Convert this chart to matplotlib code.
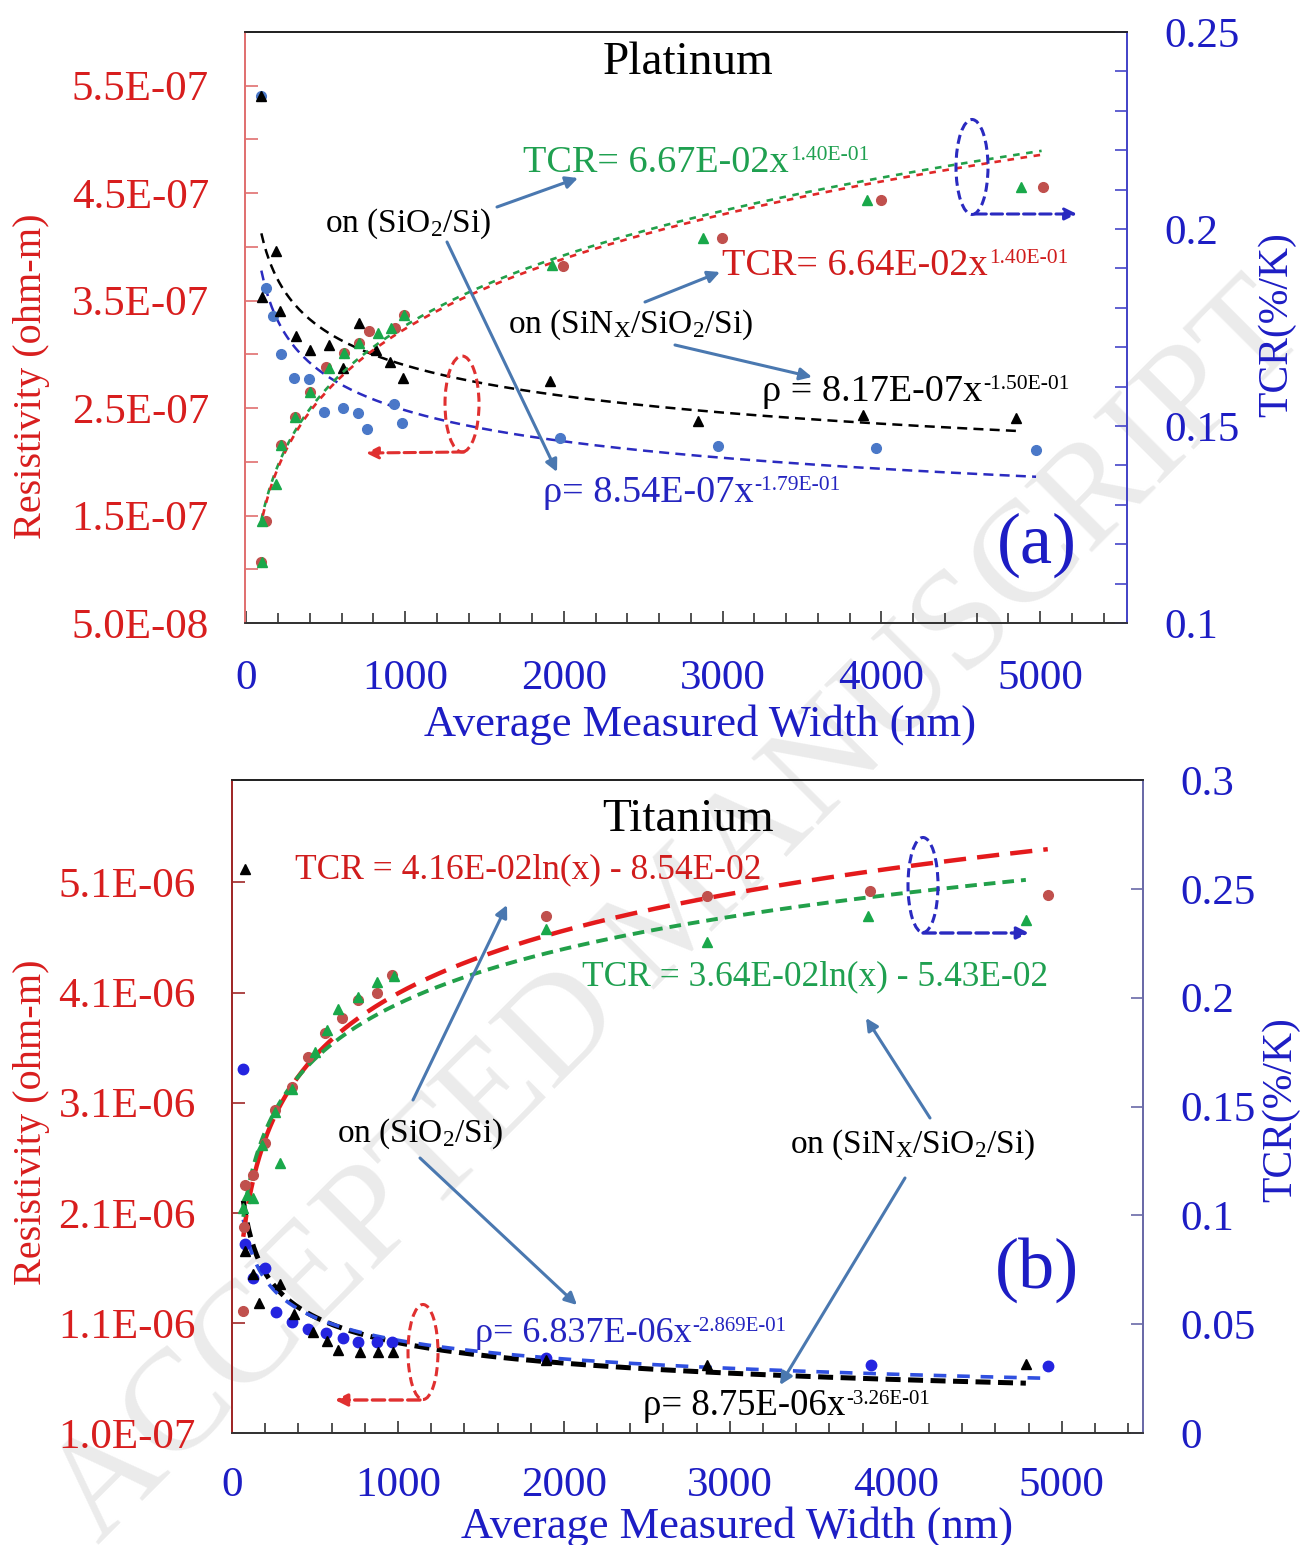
import numpy as np
import matplotlib.pyplot as plt
from matplotlib.patches import Ellipse
from matplotlib.ticker import FixedLocator, FuncFormatter

plt.rcParams['font.family'] = ['Liberation Serif', 'DejaVu Serif']
plt.rcParams['mathtext.fontset'] = 'custom'
plt.rcParams['mathtext.rm'] = 'Liberation Serif'
plt.rcParams['mathtext.it'] = 'Liberation Serif:italic'

W, H = 1301, 1545

# ---- Platinum (a) ----
pt_rho_sio2_x = [93, 124, 166, 219, 303, 398, 492, 608, 703, 762, 930, 983, 1976, 2973, 3965, 4975]
pt_rho_sio2 = [5.40e-7, 3.62e-7, 3.36e-7, 3.00e-7, 2.78e-7, 2.77e-7, 2.46e-7, 2.50e-7,
               2.45e-7, 2.31e-7, 2.54e-7, 2.36e-7, 2.22e-7, 2.15e-7, 2.13e-7, 2.11e-7]
pt_rho_sinx_x = [93, 99, 187, 213, 314, 402, 518, 608, 713, 819, 907, 987, 1913, 2847, 3883, 4848]
pt_rho_sinx = [5.40e-7, 3.53e-7, 3.96e-7, 3.40e-7, 3.17e-7, 3.04e-7, 3.09e-7, 2.87e-7,
               3.29e-7, 3.04e-7, 2.93e-7, 2.78e-7, 2.75e-7, 2.38e-7, 2.44e-7, 2.41e-7]
pt_tcr_sio2_x = [99, 99, 185, 219, 309, 402, 523, 614, 709, 829, 913, 991, 1925, 2879, 3908, 4880]
pt_tcr_sio2 = [0.1156, 0.126, 0.1353, 0.1452, 0.1524, 0.1586, 0.1648, 0.1686,
               0.1711, 0.1737, 0.1748, 0.1782, 0.1908, 0.1976, 0.2073, 0.2106]
pt_tcr_sinx_x = [95, 124, 219, 309, 402, 503, 614, 709, 772, 940, 991, 1995, 2999, 3996, 5019]
pt_tcr_sinx = [0.1156, 0.126, 0.1452, 0.1524, 0.1586, 0.1651, 0.1686, 0.1711,
               0.174, 0.1748, 0.1782, 0.1905, 0.1976, 0.2073, 0.2106]

# trendline coefficients printed on the chart: a * x**b
pt_tcr_sio2_fit = (6.67e-2, 1.40e-1)
pt_tcr_sinx_fit = (6.64e-2, 1.40e-1)
pt_rho_sinx_fit = (8.17e-7, -1.50e-1)
pt_rho_sio2_fit = (8.54e-7, -1.79e-1)

# ---- Titanium (b) ----
ti_rho_sio2_x = [68, 78, 128, 199, 265, 359, 456, 564, 667, 761, 872, 966, 1891, 3851, 4916]
ti_rho_sio2 = [3.41e-6, 1.815e-6, 1.506e-6, 1.597e-6, 1.203e-6, 1.112e-6, 1.045e-6, 1.012e-6,
               0.966e-6, 0.93e-6, 0.93e-6, 0.93e-6, 0.78e-6, 0.72e-6, 0.71e-6]
ti_rho_sinx_x = [78, 78, 125, 165, 289, 375, 490, 574, 640, 771, 881, 972, 1891, 2860, 4784]
ti_rho_sinx = [5.22e-6, 1.75e-6, 1.545e-6, 1.28e-6, 1.455e-6, 1.18e-6, 1.02e-6, 0.939e-6,
               0.855e-6, 0.839e-6, 0.839e-6, 0.839e-6, 0.76e-6, 0.72e-6, 0.73e-6]
ti_tcr_sinx_x = [68, 72, 78, 128, 199, 259, 359, 456, 560, 664, 761, 871, 962, 1891, 2860, 3846, 4916]
ti_tcr_sinx = [0.0562, 0.0948, 0.1139, 0.1185, 0.1331, 0.1484, 0.1588, 0.1726, 0.1836,
               0.1908, 0.1989, 0.2023, 0.2104, 0.2373, 0.2467, 0.2489, 0.2473]
ti_tcr_sio2_x = [68, 88, 128, 179, 259, 289, 359, 500, 574, 640, 761, 871, 976, 1891, 2860, 3834, 4784]
ti_tcr_sio2 = [0.1032, 0.1093, 0.1078, 0.1323, 0.1476, 0.1239, 0.1579, 0.1751, 0.1851,
               0.1946, 0.2004, 0.207, 0.2099, 0.2315, 0.2257, 0.2376, 0.2357]

ti_tcr_sinx_fit = (4.16e-2, -8.54e-2)   # a*ln(x) + b
ti_tcr_sio2_fit = (3.64e-2, -5.43e-2)
ti_rho_sio2_fit = (6.837e-6, -2.869e-1)
ti_rho_sinx_fit = (8.75e-6, -3.26e-1)

RED = '#d81e1e'
BLUE = '#1d1dc4'
ARROW = '#4a78b0'


def fx(px):
    return px / W


def fy(py):
    return 1 - py / H


def power(coef, x0, x1):
    x = np.linspace(x0, x1, 300)
    return x, coef[0] * x ** coef[1]


def logfit(coef, x0, x1):
    x = np.linspace(x0, x1, 300)
    return x, coef[0] * np.log(x) + coef[1]


fig = plt.figure(figsize=(W / 100, H / 100), dpi=100)
renderer = fig.canvas.get_renderer()

# watermark
fig.text(fx(680), fy(915), 'ACCEPTED MANUSCRIPT', rotation=45, fontsize=104,
         color='#ebebeb', ha='center', va='center', zorder=-1)


def make_panel(left, right, top, bottom, xlim, yl, yr, lmaj, lmin, rmaj, rmin,
               lspine, rspine, xpad, lpad, rpad):
    ax = fig.add_axes([fx(left), fy(bottom), (right - left) / W, (bottom - top) / H])
    ax.set_facecolor('none')
    ax2 = ax.twinx()
    ax.set_xlim(*xlim)
    ax.set_ylim(*yl)
    ax2.set_ylim(*yr)
    ax.xaxis.set_major_locator(FixedLocator(np.arange(0, 5001, 1000)))
    ax.xaxis.set_minor_locator(FixedLocator(np.arange(0, 5401, 200)))
    ax.yaxis.set_major_locator(FixedLocator(lmaj))
    ax.yaxis.set_minor_locator(FixedLocator(lmin))
    ax2.yaxis.set_major_locator(FixedLocator(rmaj))
    ax2.yaxis.set_minor_locator(FixedLocator(rmin))
    ax.yaxis.set_major_formatter(FuncFormatter(lambda v, p: f'{v:.1E}'))
    ax2.yaxis.set_major_formatter(FuncFormatter(lambda v, p: f'{v:g}'))
    ax.tick_params(axis='x', which='both', direction='in', top=False, labelsize=31,
                   labelcolor=BLUE, pad=xpad, color='#333333', width=1.2)
    ax.tick_params(axis='x', which='major', length=9)
    ax.tick_params(axis='x', which='minor', length=7)
    ax.tick_params(axis='y', which='both', direction='in', labelsize=31,
                   labelcolor=RED, pad=lpad, color=lspine, width=1.2, length=9)
    ax2.tick_params(axis='y', which='both', direction='in', labelsize=31,
                    labelcolor=BLUE, pad=rpad, color=rspine, width=1.2, length=9)
    for a in (ax, ax2):
        a.spines['top'].set_color('#222222')
        a.spines['bottom'].set_color('#333333')
        a.spines['left'].set_color(lspine)
        a.spines['right'].set_color(rspine)
        for s in a.spines.values():
            s.set_linewidth(1.3)
    return ax, ax2


# ---------------- panel (a) ----------------
ax, ax2 = make_panel(245, 1127, 32, 623, (-8, 5548), (5e-8, 6e-7), (0.1, 0.25),
                     [5e-8 + k * 1e-7 for k in range(6)], [1e-7 + k * 1e-7 for k in range(5)],
                     [0.1, 0.15, 0.2, 0.25], np.arange(0.11, 0.25, 0.01),
                     '#e07070', '#4545c8', 26, 26, 27)

x, y = power(pt_rho_sinx_fit, 95, 4848)
ax.plot(x, y, color='black', lw=1.8, dashes=(4, 2.5), zorder=2)
x, y = power(pt_rho_sio2_fit, 95, 4975)
ax.plot(x, y, color='#2b2bc0', lw=1.8, dashes=(4, 2.5), zorder=2)
ax.plot(pt_rho_sio2_x, pt_rho_sio2, 'o', color='#4a78c8', ms=7, zorder=3)
ax.plot(pt_rho_sinx_x, pt_rho_sinx, '^', color='black', ms=7, zorder=3)

x, y = power(pt_tcr_sio2_fit, 95, 5010)
ax2.plot(x, y, color='#22a04a', lw=1.9, dashes=(2.5, 2.5), zorder=2)
x, y = power(pt_tcr_sinx_fit, 95, 5010)
ax2.plot(x, y, color='#e02828', lw=1.9, linestyle=(2.5, (2.5, 2.5)), zorder=2)
ax2.plot(pt_tcr_sinx_x, pt_tcr_sinx, 'o', color='#c0504d', ms=7, zorder=3)
ax2.plot(pt_tcr_sio2_x, pt_tcr_sio2, '^', color='#19a84a', ms=7, zorder=3)

# ---------------- panel (b) ----------------
bx, bx2 = make_panel(232, 1143, 780, 1433, (0, 5490), (1e-7, 6.03e-6), (0, 0.3),
                     [1e-7 + k * 1e-6 for k in range(6)], [],
                     [0, 0.05, 0.1, 0.15, 0.2, 0.25, 0.3], [],
                     '#a02828', '#6a6aa8', 24, 26, 27)

x, y = power(ti_rho_sinx_fit, 68, 4784)
bx.plot(x, y, color='black', lw=3.6, dashes=(3, 1.5), zorder=2)
x, y = power(ti_rho_sio2_fit, 68, 4916)
bx.plot(x, y, color='#3050e0', lw=2.6, dashes=(3.5, 3), zorder=2)
bx.plot(ti_rho_sio2_x, ti_rho_sio2, 'o', color='#2424e0', ms=7.5, zorder=3)
bx.plot(ti_rho_sinx_x, ti_rho_sinx, '^', color='black', ms=7, zorder=3)

x, y = logfit(ti_tcr_sinx_fit, 68, 4916)
bx2.plot(x, y, color='#e41a1c', lw=3.2, dashes=(5, 2.5), zorder=2)
x, y = logfit(ti_tcr_sio2_fit, 68, 4784)
bx2.plot(x, y, color='#22a04a', lw=2.8, dashes=(3, 1.8), zorder=2)
bx2.plot(ti_tcr_sinx_x, ti_tcr_sinx, 'o', color='#c0504d', ms=7, zorder=3)
bx2.plot(ti_tcr_sio2_x, ti_tcr_sio2, '^', color='#19a84a', ms=7, zorder=3)


# ---------------- texts ----------------
def txt(px, py, s, color='black', size=25, ha='left', va='baseline', **kw):
    return fig.text(fx(px), fy(py), s, color=color, fontsize=size, ha=ha, va=va, **kw)


def eq(px, py, base, sup, color, size=27.5, ssize=15.5, rise=12):
    # base text followed by a small raised exponent
    t = txt(px, py, base, color, size)
    bb = t.get_window_extent(renderer)
    fig.text((bb.x1 + 1) / W, fy(py - rise), sup, color=color, fontsize=ssize,
             ha='left', va='baseline')


def arrow(x0, y0, x1, y1, color=ARROW, lw=2.2, ls='-'):
    fig.add_artist(plt.Annotation('', xy=(fx(x1), fy(y1)), xytext=(fx(x0), fy(y0)),
                                  xycoords='figure fraction', textcoords='figure fraction',
                                  arrowprops=dict(arrowstyle='-|>', color=color, lw=lw,
                                                  linestyle=ls, mutation_scale=18,
                                                  shrinkA=0, shrinkB=0)))


def oval(cx, cy, w, h, color):
    fig.add_artist(Ellipse((fx(cx), fy(cy)), w / W, h / H, transform=fig.transFigure,
                           fill=False, edgecolor=color, lw=2.2, linestyle=(0, (3, 1.6))))


# axis labels
txt(32, 376, 'Resistivity (ohm-m)', RED, 29, 'center', 'center', rotation=90)
txt(32, 1122, 'Resistivity (ohm-m)', RED, 29, 'center', 'center', rotation=90)
txt(1277, 325, 'TCR(%/K)', BLUE, 30, 'center', 'center', rotation=90)
txt(1281, 1110, 'TCR(%/K)', BLUE, 30, 'center', 'center', rotation=90)
txt(700, 725, 'Average Measured Width (nm)', BLUE, 32, 'center', 'center')
txt(737, 1527, 'Average Measured Width (nm)', BLUE, 32, 'center', 'center')

# panel (a) annotations
txt(688, 63, 'Platinum', 'black', 34, 'center', 'center')
eq(523, 172, 'TCR= 6.67E-02x', '1.40E-01', '#1fa050')
txt(325, 232, r'on (SiO$_{\mathregular{2}}$/Si)', 'black', 24)
eq(722, 275, 'TCR= 6.64E-02x', '1.40E-01', '#d01c1c')
txt(508, 333, r'on (SiN$_{\mathregular{X}}$/SiO$_{\mathregular{2}}$/Si)', 'black', 24)
eq(762, 401, 'ρ = 8.17E-07x', '-1.50E-01', 'black')
eq(543, 502, 'ρ= 8.54E-07x', '-1.79E-01', '#2525c0')
txt(1037, 545, '(a)', BLUE, 52, 'center', 'center')
arrow(497, 207, 578, 178)
arrow(447, 242, 557, 472)
arrow(645, 302, 720, 272)
arrow(675, 345, 812, 377)
oval(462, 404, 34, 96, '#e03030')
arrow(464, 452, 366, 453, color='#e03030', lw=2.2, ls='--')
oval(972, 167, 32, 95, '#2a2ac0')
arrow(975, 214, 1077, 214, color='#2a2ac0', lw=2.2, ls='--')

# panel (b) annotations
txt(688, 820, 'Titanium', 'black', 34, 'center', 'center')
txt(295, 878, 'TCR = 4.16E-02ln(x) - 8.54E-02', '#d01c1c', 25.5)
txt(582, 985, 'TCR = 3.64E-02ln(x) - 5.43E-02', '#1fa050', 25.5)
txt(337, 1142, r'on (SiO$_{\mathregular{2}}$/Si)', 'black', 24)
txt(790, 1153, r'on (SiN$_{\mathregular{X}}$/SiO$_{\mathregular{2}}$/Si)', 'black', 24)
eq(475, 1342, 'ρ= 6.837E-06x', '-2.869E-01', '#2525c0', 26, 15, 11)
eq(643, 1415, 'ρ= 8.75E-06x', '-3.26E-01', 'black', 26.5, 15, 11)
txt(1037, 1270, '(b)', BLUE, 52, 'center', 'center')
arrow(413, 1100, 507, 905)
arrow(420, 1158, 577, 1305)
arrow(930, 1118, 866, 1018)
arrow(905, 1178, 780, 1385)
oval(423, 1352, 30, 95, '#e03030')
arrow(420, 1400, 335, 1400, color='#e03030', lw=2.4, ls='--')
oval(923, 885, 30, 95, '#2a2ac0')
arrow(923, 933, 1029, 933, color='#2a2ac0', lw=2.4, ls='--')

fig.savefig('out.png', dpi=100)
